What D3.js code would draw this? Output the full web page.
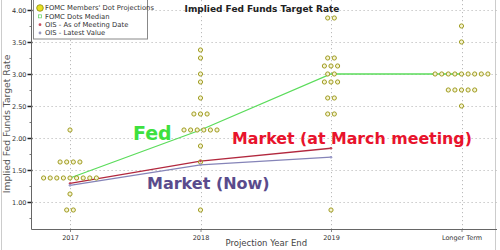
<!DOCTYPE html>
<html><head><meta charset="utf-8">
<script src="https://cdn.jsdelivr.net/npm/d3@7"></script>
<style>body{margin:0;background:#fff;} svg{display:block;}</style>
</head><body>
<svg id="c" width="500" height="250"></svg>
<script>
const categories = ["2017", "2018", "2019", "Longer Term"];
// FOMC dots: [rate, number of participants]
const dots2017 = [[2.125,1],[1.625,4],[1.375,9],[1.125,1],[0.875,2]];
const dots2018 = [[3.375,1],[3.25,1],[3.0,1],[2.875,1],[2.625,1],[2.375,3],[2.125,6],[1.875,1],[1.625,1],[0.875,1]];
const dots2019 = [[3.875,2],[3.25,2],[3.125,3],[3.0,2],[2.875,3],[2.625,2],[2.375,2],[0.875,1]];
const dotsLonger = [[3.75,1],[3.5,1],[3.0,9],[2.75,5],[2.5,1]];
const fedMedian = [1.375, 2.125, 3.0, 3.0];
const marketMarch = [1.29, 1.64, 1.84];
const marketNow = [1.26, 1.58, 1.70];
const yTicks = [1.00, 1.50, 2.00, 2.50, 3.00, 3.50, 4.00];
const yMinorTicks = [0.75, 1.25, 1.75, 2.25, 2.75, 3.25, 3.75];
const legendItems = ["FOMC Members' Dot Projections", "FOMC Dots Median", "OIS - As of Meeting Date", "OIS - Latest Value"];

(function(){
const svg = d3.select("#c");
const W = 500, H = 250;
const pLeft = 31.5, pRight = 497, pTop = 0, pBottom = 229;

const x = d3.scalePoint().domain(categories).range([70, 461.5]);
const y = d3.scaleLinear().domain([0.578, 4.156]).range([pBottom, pTop]);

// outer frame
svg.append("line").attr("x1",1.5).attr("x2",1.5).attr("y1",0).attr("y2",H).attr("stroke","#ccc");
svg.append("line").attr("x1",495.5).attr("x2",495.5).attr("y1",0).attr("y2",H).attr("stroke","#ccc");

// gridlines
const grid = svg.append("g");
grid.selectAll("line.h").data(yTicks).join("line")
  .attr("x1", pLeft).attr("x2", pRight)
  .attr("y1", d => Math.round(y(d))+0.5).attr("y2", d => Math.round(y(d))+0.5)
  .attr("stroke", "#bbb").attr("stroke-dasharray", "1.2,2.8");
grid.selectAll("line.v").data(categories).join("line")
  .attr("x1", d => Math.round(x(d))+0.5).attr("x2", d => Math.round(x(d))+0.5)
  .attr("y1", pTop).attr("y2", pBottom)
  .attr("stroke", "#bbb").attr("stroke-dasharray", "1.2,2.8");

// axes
const yAxis = d3.axisLeft(y).tickValues(yTicks).tickFormat(d3.format(".2f")).tickSize(4).tickPadding(1);
const gy = svg.append("g").attr("transform", `translate(${pLeft},0)`).call(yAxis);
gy.select(".domain").remove();
gy.selectAll(".tick line").attr("stroke", "#222").attr("stroke-width", 1.5).attr("x2", -4).attr("x1", 1);
gy.selectAll(".tick text").attr("font-family", "DejaVu Sans").attr("font-size", 6.5).attr("fill", "#333");
const gym = svg.append("g").attr("transform", `translate(${pLeft},0)`)
  .call(d3.axisLeft(y).tickValues(yMinorTicks).tickFormat("").tickSize(2));
gym.select(".domain").remove();
gym.selectAll(".tick line").attr("stroke", "#777");

const xAxis = d3.axisBottom(x).tickSize(3).tickPadding(3);
const gx = svg.append("g").attr("transform", `translate(0,${pBottom})`).call(xAxis);
gx.select(".domain").remove();
gx.selectAll(".tick line").attr("stroke", "#888");
gx.selectAll(".tick text").attr("font-family", "DejaVu Sans").attr("font-size", 6.5).attr("fill", "#333");

svg.append("line").attr("x1", pLeft).attr("x2", pLeft).attr("y1", pTop).attr("y2", pBottom+0.5).attr("stroke", "#666");
svg.append("line").attr("x1", pLeft).attr("x2", pRight).attr("y1", pBottom+0.5).attr("y2", pBottom+0.5).attr("stroke", "#666");

// axis titles
svg.append("text").attr("x", (pLeft+pRight)/2 + 2).attr("y", 246).attr("text-anchor", "middle")
  .attr("font-family", "DejaVu Sans").attr("font-size", 8.5).attr("fill", "#444").text("Projection Year End");
svg.append("text").attr("transform", `translate(10,${124}) rotate(-90)`).attr("text-anchor", "middle")
  .attr("font-family", "DejaVu Sans").attr("font-size", 9.2).attr("fill", "#555").text("Implied Fed Funds Target Rate");

// title
svg.append("text").attr("x", 262).attr("y", 12).attr("text-anchor", "middle")
  .attr("font-family", "DejaVu Sans").attr("font-weight", "bold").attr("font-size", 9).attr("fill", "#222")
  .text("Implied Fed Funds Target Rate");

// lines
const line = d3.line().x(d => x(d.c)).y(d => y(d.v));
const fedData = fedMedian.map((v,i) => ({c: categories[i], v}));
const marchData = marketMarch.map((v,i) => ({c: categories[i], v}));
const nowData = marketNow.map((v,i) => ({c: categories[i], v}));
svg.append("path").attr("d", line(fedData)).attr("fill","none").attr("stroke","#5bdc5b").attr("stroke-width",1.3);
svg.append("path").attr("d", line(nowData)).attr("fill","none").attr("stroke","#8584b8").attr("stroke-width",1.3);
svg.append("path").attr("d", line(marchData)).attr("fill","none").attr("stroke","#b2283e").attr("stroke-width",1.3);

// FOMC dots
const dotSets = [dots2017, dots2018, dots2019, dotsLonger];
const dotPts = [];
dotSets.forEach((set, ci) => {
  set.forEach(([v, n]) => {
    for (let k = 0; k < n; k++) dotPts.push({c: categories[ci], v, off: (k - (n-1)/2) * 6.6});
  });
});
svg.append("g").selectAll("circle").data(dotPts).join("circle")
  .attr("cx", d => x(d.c) + d.off).attr("cy", d => y(d.v)).attr("r", 2.1)
  .attr("fill", "#f6f4d4").attr("stroke", "#a09c20").attr("stroke-width", 1);

// line markers
svg.append("g").selectAll("circle").data(marchData).join("circle")
  .attr("cx", d => x(d.c)).attr("cy", d => y(d.v)).attr("r", 1.3).attr("fill", "#c04058");
svg.append("g").selectAll("circle").data(nowData).join("circle")
  .attr("cx", d => x(d.c)).attr("cy", d => y(d.v)).attr("r", 1.3).attr("fill", "#9a9ac8");

// annotations
svg.append("text").attr("x", 133).attr("y", 140).attr("font-family", "DejaVu Sans").attr("font-weight", "bold")
  .attr("font-size", 19).attr("fill", "#3ee03e").text("Fed");
svg.append("text").attr("x", 232).attr("y", 144).attr("font-family", "DejaVu Sans").attr("font-weight", "bold")
  .attr("font-size", 15.8).attr("fill", "#e8132c").text("Market (at March meeting)");
svg.append("text").attr("x", 147).attr("y", 189).attr("font-family", "DejaVu Sans").attr("font-weight", "bold")
  .attr("font-size", 16).attr("fill", "#5a4b8c").text("Market (Now)");

// legend
const lg = svg.append("g");
lg.append("rect").attr("x", 33.5).attr("y", -1).attr("width", 114).attr("height", 40)
  .attr("fill", "#fff").attr("stroke", "#888");
const ly = d3.scalePoint().domain(legendItems).range([8, 33]);
lg.selectAll("text").data(legendItems).join("text")
  .attr("x", 45).attr("y", d => ly(d) + 2.4)
  .attr("font-family", "DejaVu Sans").attr("font-size", 6.8).attr("fill", "#333").text(d => d);
lg.append("circle").attr("cx", 40).attr("cy", ly(legendItems[0])).attr("r", 3.3)
  .attr("fill", "#e8e020").attr("stroke", "#8a8a10").attr("stroke-width", 0.8);
lg.append("rect").attr("x", 38.5).attr("y", ly(legendItems[1]) - 1.5).attr("width", 3).attr("height", 3)
  .attr("fill", "none").attr("stroke", "#6bd46b").attr("stroke-width", 0.8);
lg.append("circle").attr("cx", 40).attr("cy", ly(legendItems[2])).attr("r", 1.4).attr("fill", "#c85060");
lg.append("circle").attr("cx", 40).attr("cy", ly(legendItems[3])).attr("r", 1.4).attr("fill", "#9a9ac0");
})();
</script>
</body></html>
